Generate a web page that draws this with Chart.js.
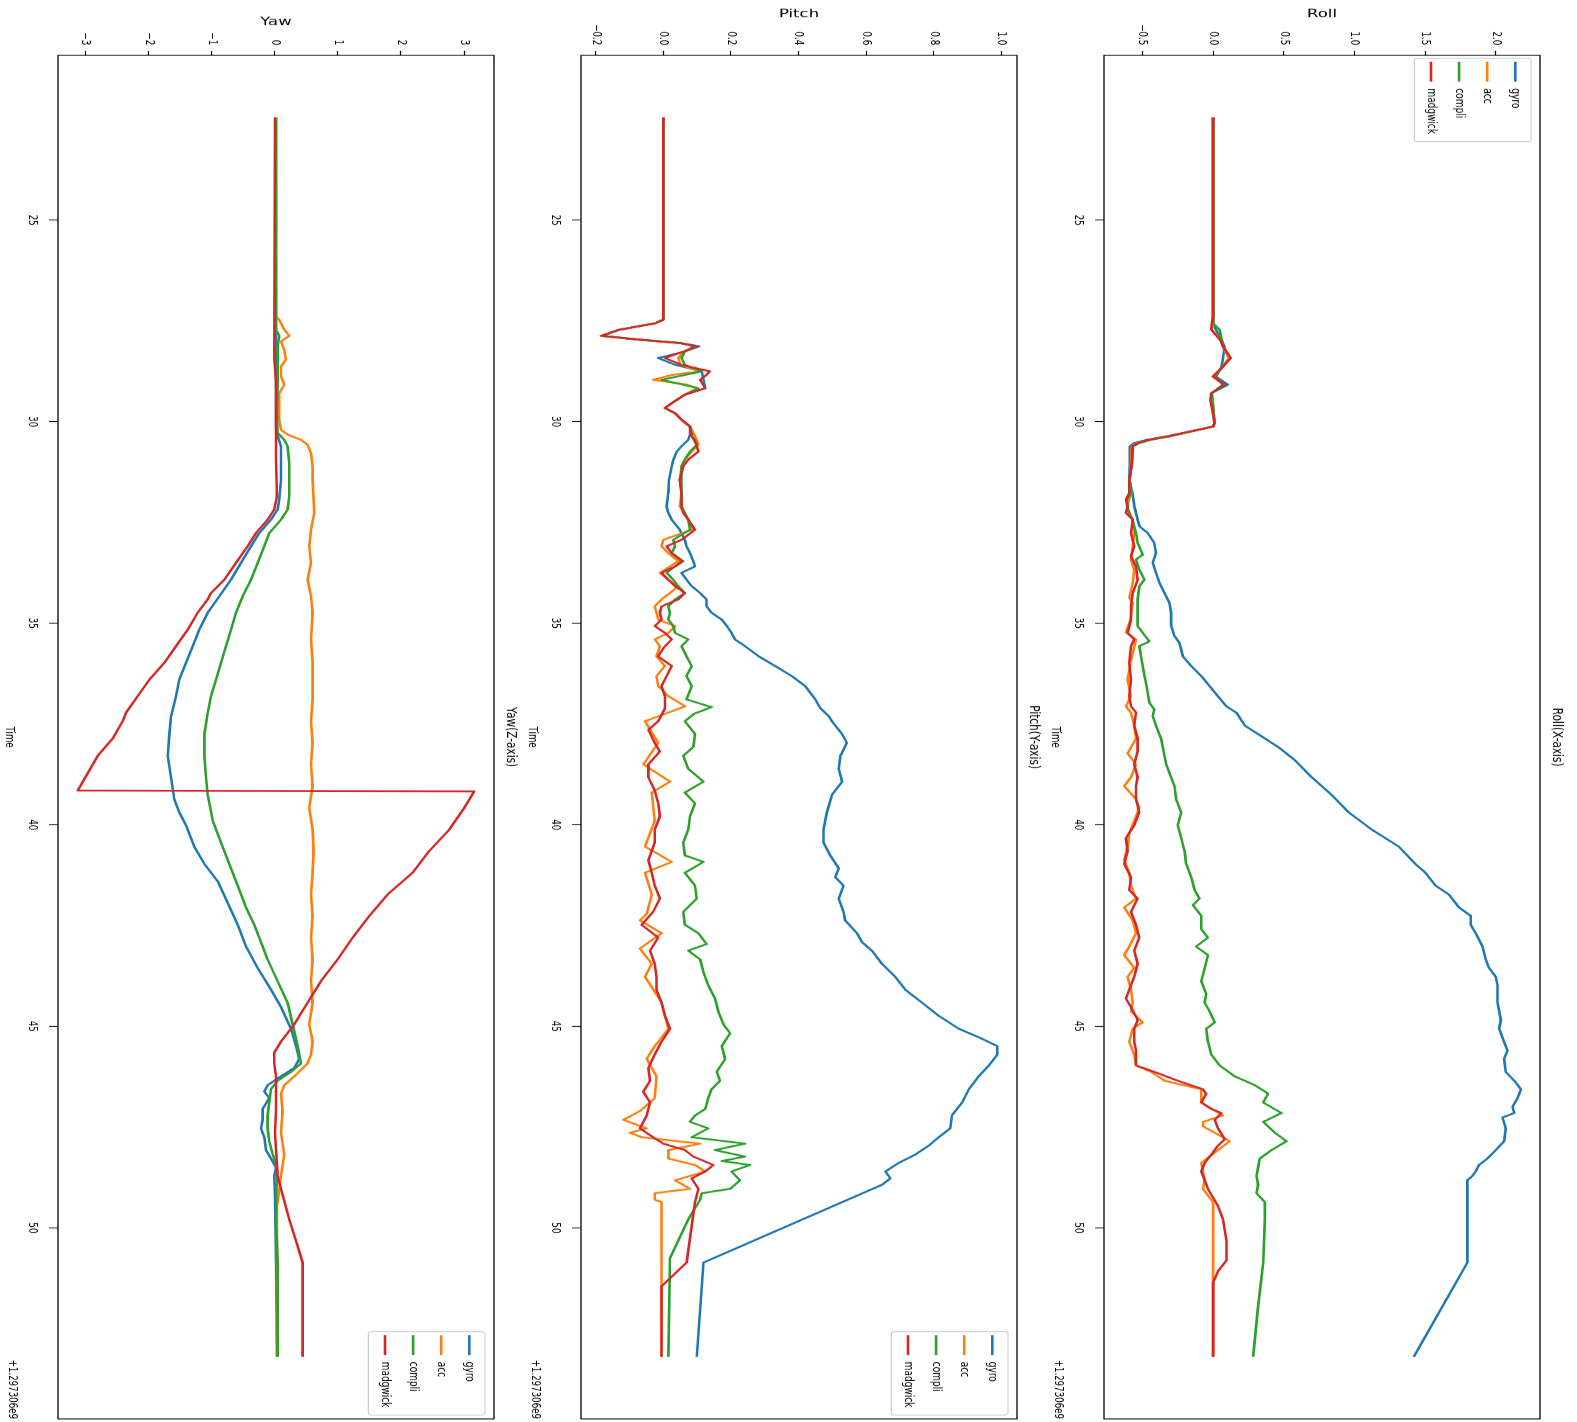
<!DOCTYPE html>
<html>
<head>
<meta charset="utf-8">
<title>Roll / Pitch / Yaw</title>
<script src="https://cdn.jsdelivr.net/npm/chart.js@4.4.1/dist/chart.umd.min.js"></script>
<style>
  html, body { margin: 0; padding: 0; background: #fff; overflow: hidden; width: 1577px; height: 1422px; }
  /* The figure is laid out upright (1422 x 1577) and then turned a quarter turn clockwise. */
  #figure { position: absolute; left: 0; top: 0; width: 1422px; height: 1577px;
            transform-origin: 0 0; transform: translateX(1577px) rotate(90deg); background: #fff; }
  .panel { position: absolute; left: 0; width: 1422px; }
  .panel canvas { position: absolute; left: 0; top: 0; transform-origin: 0 0; }
</style>
</head>
<body>
<div id="figure">
  <div class="panel" style="top:0px"><canvas id="roll"></canvas></div>
  <div class="panel" style="top:523px"><canvas id="pitch"></canvas></div>
  <div class="panel" style="top:1046px"><canvas id="yaw"></canvas></div>
</div>
<script>
// ---- time axis (seconds, offset +1.297306e9) ----
const timeRange = [20.91, 54.74];
const timeTicks = [25, 30, 35, 40, 45, 50];

// ---- Roll (X-axis) ----
const rollRange = [-0.772, 2.312];
const rollTicks = [-0.5, 0.0, 0.5, 1.0, 1.5, 2.0];
const rollGyro = [[22.45,0],[27.39,0],[27.56,0],[27.72,0.02],[27.97,0.06],[28.13,0.08],[28.42,0.07],[28.63,0.06],[28.88,0.02],[29.08,0.105],[29.29,-0.01],[29.46,-0.01],[29.79,0],[30.03,0.01],[30.12,0],[30.36,-0.32],[30.45,-0.47],[30.53,-0.558],[30.61,-0.59],[31.03,-0.59],[31.44,-0.593],[31.77,-0.57],[32.10,-0.557],[32.43,-0.534],[32.60,-0.52],[32.76,-0.463],[33.01,-0.416],[33.26,-0.404],[33.50,-0.427],[33.75,-0.404],[34.00,-0.38],[34.25,-0.344],[34.50,-0.309],[34.74,-0.297],[35.07,-0.297],[35.32,-0.273],[35.49,-0.238],[35.82,-0.214],[36.06,-0.155],[36.31,-0.084],[36.56,-0.025],[36.81,0.034],[37.06,0.094],[37.22,0.165],[37.54,0.224],[37.75,0.318],[38.07,0.46],[38.40,0.579],[38.82,0.697],[39.26,0.839],[39.69,0.958],[40.12,1.123],[40.54,1.313],[40.97,1.43],[41.19,1.502],[41.51,1.573],[41.73,1.668],[42.05,1.739],[42.26,1.822],[42.48,1.822],[42.69,1.857],[43.02,1.905],[43.34,1.928],[43.55,1.952],[43.77,1.999],[43.98,2.011],[44.41,2.011],[44.84,2.035],[45.06,2.023],[45.38,2.058],[45.60,2.082],[45.81,2.058],[46.13,2.07],[46.35,2.13],[46.56,2.177],[46.78,2.153],[46.99,2.118],[47.15,2.13],[47.26,2.047],[47.53,2.07],[47.85,2.058],[48.07,1.999],[48.28,1.94],[48.44,1.881],[48.60,1.857],[48.71,1.834],[48.82,1.798],[49.79,1.798],[50.86,1.798],[53.2,1.419]];
const rollAcc = [[22.45,0],[27.39,0],[27.56,0],[27.72,-0.01],[27.97,0.055],[28.13,0.07],[28.42,0.11],[28.63,0.07],[28.88,-0.005],[29.08,0.075],[29.29,-0.01],[29.62,0],[30.03,0.01],[30.12,0],[30.36,-0.30],[30.45,-0.45],[30.53,-0.54],[30.61,-0.575],[31.03,-0.58],[31.44,-0.59],[31.77,-0.58],[32.10,-0.61],[32.43,-0.57],[32.76,-0.558],[33.09,-0.569],[33.42,-0.581],[33.67,-0.558],[34.00,-0.569],[34.37,-0.593],[34.50,-0.569],[34.91,-0.585],[35.22,-0.617],[35.40,-0.546],[35.98,-0.585],[36.40,-0.605],[36.81,-0.581],[37.06,-0.617],[37.22,-0.581],[37.54,-0.558],[37.86,-0.546],[38.23,-0.605],[38.50,-0.546],[38.82,-0.581],[39.04,-0.629],[39.36,-0.546],[39.58,-0.522],[39.90,-0.558],[40.22,-0.593],[40.54,-0.605],[40.87,-0.629],[41.19,-0.593],[41.51,-0.581],[41.83,-0.546],[42.05,-0.629],[42.37,-0.569],[42.69,-0.546],[43.02,-0.593],[43.23,-0.629],[43.55,-0.558],[43.77,-0.605],[44.09,-0.581],[44.41,-0.569],[44.63,-0.581],[44.90,-0.498],[45.06,-0.569],[45.38,-0.593],[45.70,-0.558],[45.97,-0.546],[46.13,-0.439],[46.35,-0.344],[46.56,-0.084],[46.89,-0.084],[47.21,0.07],[47.37,-0.072],[47.48,-0.072],[47.64,0.011],[47.85,0.117],[48.07,0.034],[48.39,-0.084],[48.60,-0.072],[48.82,-0.06],[49.03,-0.072],[49.25,-0.025],[49.36,0],[53.2,0]];
const rollCompli = [[22.45,0],[27.39,0],[27.56,0],[27.72,0.046],[27.97,0.06],[28.13,0.07],[28.42,0.124],[28.63,0.07],[28.88,0.01],[29.08,0.07],[29.29,-0.01],[29.62,0],[30.03,0.01],[30.12,0],[30.36,-0.30],[30.45,-0.44],[30.53,-0.52],[30.61,-0.565],[31.03,-0.575],[31.44,-0.59],[31.77,-0.58],[31.93,-0.61],[32.18,-0.605],[32.43,-0.57],[32.76,-0.546],[33.01,-0.534],[33.30,-0.498],[33.42,-0.546],[33.67,-0.522],[33.92,-0.486],[34.08,-0.522],[34.41,-0.534],[34.74,-0.534],[35.07,-0.534],[35.45,-0.451],[35.57,-0.522],[35.82,-0.51],[36.06,-0.498],[36.31,-0.486],[36.48,-0.475],[36.73,-0.463],[36.97,-0.451],[37.14,-0.416],[37.30,-0.427],[37.54,-0.404],[37.86,-0.368],[38.07,-0.356],[38.29,-0.344],[38.50,-0.332],[38.72,-0.309],[39.04,-0.273],[39.36,-0.262],[39.69,-0.226],[40.01,-0.25],[40.33,-0.226],[40.65,-0.202],[40.97,-0.191],[41.30,-0.155],[41.62,-0.131],[41.83,-0.096],[41.99,-0.143],[42.26,-0.084],[42.59,-0.084],[42.80,-0.037],[43.02,-0.12],[43.23,-0.037],[43.55,-0.06],[43.88,-0.084],[44.20,-0.049],[44.41,-0.06],[44.63,-0.025],[44.90,0.011],[45.06,-0.049],[45.38,-0.037],[45.70,-0.013],[45.97,0.046],[46.24,0.153],[46.46,0.295],[46.67,0.389],[46.89,0.354],[47.15,0.484],[47.37,0.354],[47.64,0.437],[47.85,0.52],[48.07,0.413],[48.28,0.33],[48.50,0.318],[48.71,0.307],[48.93,0.318],[49.14,0.307],[49.36,0.366],[49.79,0.366],[50.86,0.354],[51.94,0.318],[53.2,0.283]];
const rollMadgwick = [[22.45,0],[27.39,0],[27.56,-0.01],[27.72,-0.013],[27.97,0.05],[28.13,0.07],[28.42,0.124],[28.63,0.07],[28.88,0],[29.08,0.082],[29.29,-0.013],[29.46,-0.02],[29.79,0],[30.03,0.01],[30.12,0],[30.36,-0.321],[30.45,-0.463],[30.53,-0.534],[30.61,-0.57],[31.03,-0.575],[31.44,-0.593],[31.77,-0.593],[31.93,-0.617],[32.10,-0.605],[32.26,-0.617],[32.43,-0.569],[32.76,-0.581],[33.09,-0.558],[33.34,-0.581],[33.59,-0.546],[33.92,-0.534],[34.25,-0.569],[34.58,-0.581],[34.91,-0.581],[35.24,-0.605],[35.40,-0.558],[35.57,-0.581],[35.98,-0.593],[36.40,-0.581],[36.81,-0.593],[37.06,-0.581],[37.21,-0.546],[37.54,-0.558],[37.86,-0.534],[38.18,-0.534],[38.50,-0.558],[38.82,-0.534],[39.04,-0.546],[39.36,-0.546],[39.69,-0.522],[40.01,-0.558],[40.33,-0.617],[40.65,-0.605],[40.97,-0.629],[41.30,-0.581],[41.62,-0.593],[41.83,-0.534],[42.16,-0.581],[42.48,-0.546],[42.80,-0.522],[43.12,-0.558],[43.45,-0.534],[43.77,-0.558],[44.09,-0.593],[44.31,-0.617],[44.52,-0.581],[44.84,-0.534],[45.06,-0.558],[45.38,-0.558],[45.60,-0.546],[45.97,-0.546],[46.13,-0.416],[46.35,-0.25],[46.56,-0.072],[46.67,-0.049],[46.89,-0.084],[47.05,-0.013],[47.15,0.058],[47.32,0.011],[47.53,0.034],[47.80,0.082],[47.96,0.034],[48.18,-0.013],[48.39,-0.06],[48.60,-0.084],[48.82,-0.06],[49.03,-0.037],[49.25,0],[49.46,0.034],[49.79,0.07],[50.32,0.094],[50.81,0.094],[51.08,0.034],[51.35,0],[53.2,0]];

// ---- Pitch (Y-axis) ----
const pitchRange = [-0.2433, 1.0463];
const pitchTicks = [-0.2, 0.0, 0.2, 0.4, 0.6, 0.8, 1.0];
const pitchGyro = [[22.45,0],[27.39,0],[27.47,0],[27.56,-0.025],[27.72,-0.133],[27.87,-0.183],[27.97,-0.06],[28.05,0.054],[28.13,0.106],[28.26,0.064],[28.42,-0.015],[28.59,0.035],[28.75,0.114],[28.96,0.119],[29.17,0.124],[29.33,0.064],[29.54,0.025],[29.66,0.005],[29.79,0.035],[29.95,0.054],[30.12,0.079],[30.32,0.079],[30.45,0.074],[30.61,0.054],[30.74,0.04],[30.94,0.03],[31.11,0.025],[31.44,0.017],[31.77,0.015],[32.10,0.01],[32.26,0.015],[32.43,0.025],[32.68,0.049],[32.93,0.064],[33.09,0.069],[33.26,0.079],[33.46,0.089],[33.59,0.094],[33.75,0.054],[33.92,0.069],[34.08,0.084],[34.25,0.109],[34.41,0.128],[34.58,0.128],[34.74,0.143],[34.91,0.173],[35.07,0.188],[35.24,0.202],[35.40,0.212],[35.57,0.242],[35.82,0.282],[36.06,0.331],[36.31,0.38],[36.56,0.42],[36.89,0.45],[37.10,0.464],[37.30,0.489],[37.43,0.499],[37.75,0.529],[37.97,0.543],[38.29,0.524],[38.61,0.519],[38.93,0.529],[39.26,0.499],[39.69,0.484],[40.12,0.474],[40.44,0.474],[40.76,0.494],[41.08,0.519],[41.30,0.509],[41.51,0.533],[41.83,0.519],[42.16,0.533],[42.37,0.538],[42.69,0.573],[42.91,0.588],[43.12,0.617],[43.45,0.647],[43.77,0.686],[44.09,0.716],[44.41,0.765],[44.74,0.815],[45.06,0.874],[45.27,0.933],[45.49,0.988],[45.70,0.988],[45.97,0.963],[46.24,0.933],[46.56,0.904],[46.89,0.884],[47.21,0.854],[47.53,0.849],[47.75,0.815],[47.96,0.785],[48.18,0.746],[48.39,0.696],[48.60,0.657],[48.77,0.672],[48.93,0.647],[50.86,0.119],[53.2,0.099]];
const pitchAcc = [[22.45,0],[27.39,0],[27.47,0],[27.56,-0.025],[27.72,-0.13],[27.87,-0.185],[27.97,-0.07],[28.05,0.05],[28.13,0.095],[28.26,0.06],[28.42,0.045],[28.59,0.05],[28.75,0.11],[28.84,0.025],[28.96,-0.03],[29.08,0.07],[29.17,0.1],[29.33,0.064],[29.54,0.025],[29.66,0.005],[29.79,0.035],[29.95,0.054],[30.12,0.079],[30.36,0.094],[30.57,0.104],[30.74,0.084],[30.94,0.064],[31.11,0.054],[31.44,0.049],[31.77,0.054],[32.10,0.049],[32.43,0.074],[32.68,0.084],[32.93,0],[33.09,-0.005],[33.26,0.015],[33.46,0.044],[33.75,-0.01],[33.92,0.015],[34.08,0.044],[34.25,0.02],[34.41,-0.005],[34.58,-0.025],[34.74,-0.02],[34.91,-0.015],[35.07,0.035],[35.24,0.015],[35.40,-0.025],[35.57,-0.01],[35.82,-0.02],[36.06,0.005],[36.31,-0.02],[36.56,-0.015],[36.81,0.015],[37.06,0.065],[37.43,-0.054],[37.97,-0.015],[38.50,-0.059],[38.93,0.02],[39.20,-0.034],[39.90,-0.025],[40.54,-0.054],[40.92,0.025],[41.19,-0.054],[41.73,-0.034],[42.21,-0.049],[42.37,-0.069],[42.69,-0.005],[43.07,-0.069],[43.45,-0.034],[43.77,-0.054],[44.41,-0.005],[45.06,0.015],[45.49,-0.025],[45.81,-0.049],[46.24,-0.02],[46.78,-0.025],[47.10,-0.069],[47.32,-0.118],[47.53,-0.049],[47.64,-0.099],[47.75,-0.064],[47.91,0.109],[48.07,0.015],[48.28,0.015],[48.44,0.094],[48.60,0.124],[48.82,0.035],[49.03,0.079],[49.14,-0.025],[49.30,-0.025],[49.36,-0.005],[53.2,-0.005]];
const pitchCompli = [[22.45,0],[27.39,0],[27.47,0],[27.56,-0.025],[27.72,-0.13],[27.87,-0.18],[27.97,-0.07],[28.05,0.05],[28.13,0.09],[28.26,0.064],[28.42,0.054],[28.59,0.064],[28.75,0.114],[28.84,0.064],[28.96,-0.005],[29.17,0.104],[29.33,0.064],[29.54,0.025],[29.66,0.005],[29.79,0.035],[29.95,0.054],[30.12,0.079],[30.36,0.084],[30.57,0.099],[30.74,0.079],[30.94,0.064],[31.11,0.054],[31.44,0.054],[31.77,0.054],[32.10,0.054],[32.26,0.064],[32.43,0.074],[32.68,0.079],[32.93,0.03],[33.09,0.035],[33.26,0.025],[33.46,0.054],[33.75,0.01],[33.92,0.03],[34.08,0.044],[34.25,0.064],[34.41,0.035],[34.58,0.015],[34.74,0.02],[34.91,0.015],[35.07,0.03],[35.24,0.035],[35.40,0.074],[35.57,0.054],[35.82,0.069],[36.06,0.084],[36.31,0.069],[36.56,0.084],[36.89,0.069],[37.08,0.143],[37.25,0.09],[37.43,0.064],[37.75,0.094],[38.07,0.089],[38.29,0.059],[38.61,0.074],[38.93,0.119],[39.20,0.064],[39.47,0.094],[39.79,0.079],[40.12,0.074],[40.44,0.059],[40.76,0.064],[40.92,0.119],[41.19,0.064],[41.51,0.094],[41.83,0.099],[42.16,0.059],[42.48,0.064],[42.69,0.104],[42.96,0.128],[43.12,0.074],[43.34,0.109],[43.66,0.119],[43.98,0.133],[44.31,0.153],[44.63,0.163],[44.95,0.178],[45.17,0.198],[45.49,0.173],[45.81,0.183],[46.13,0.158],[46.35,0.168],[46.56,0.143],[46.78,0.133],[47.05,0.124],[47.21,0.094],[47.37,0.079],[47.53,0.133],[47.75,0.084],[47.91,0.242],[48.07,0.153],[48.23,0.242],[48.34,0.173],[48.44,0.257],[48.60,0.202],[48.82,0.227],[49.03,0.198],[49.14,0.114],[49.30,0.109],[49.79,0.074],[50.75,0.02],[53.2,0.015]];
const pitchMadgwick = [[22.45,0],[27.39,0],[27.47,0],[27.56,-0.025],[27.72,-0.13],[27.87,-0.183],[27.97,-0.06],[28.05,0.05],[28.13,0.1],[28.26,0.06],[28.42,0.005],[28.59,0.054],[28.75,0.138],[28.84,0.128],[28.96,0.109],[29.17,0.124],[29.33,0.064],[29.54,0.025],[29.66,0.005],[29.79,0.035],[29.95,0.054],[30.12,0.079],[30.36,0.084],[30.45,0.094],[30.61,0.099],[30.74,0.104],[30.94,0.074],[31.11,0.059],[31.44,0.049],[31.77,0.054],[32.10,0.054],[32.26,0.059],[32.43,0.074],[32.68,0.094],[32.93,0.054],[33.09,0.01],[33.26,0.025],[33.46,0.059],[33.59,0.035],[33.75,-0.005],[33.92,0.015],[34.08,0.035],[34.25,0.064],[34.41,0.044],[34.58,-0.005],[34.74,-0.01],[34.91,-0.005],[35.07,-0.025],[35.24,0.005],[35.40,0.025],[35.57,0.005],[35.82,-0.015],[36.06,0.025],[36.31,0.01],[36.56,-0.005],[36.81,0.005],[37.11,0.005],[37.43,-0.015],[37.64,-0.044],[37.97,-0.025],[38.18,-0.01],[38.50,-0.044],[38.82,-0.044],[39.15,-0.025],[39.47,-0.015],[39.79,-0.01],[40.12,-0.025],[40.44,-0.025],[40.87,-0.044],[41.19,-0.034],[41.51,-0.025],[41.83,-0.01],[42.16,-0.03],[42.48,-0.064],[42.80,-0.015],[43.12,-0.039],[43.45,-0.025],[43.77,-0.02],[44.09,-0.02],[44.41,-0.005],[44.74,0.005],[45.06,0.02],[45.38,-0.005],[45.70,-0.025],[46.03,-0.044],[46.35,-0.039],[46.62,-0.059],[46.89,-0.039],[47.21,-0.049],[47.53,-0.069],[47.75,-0.03],[47.91,0],[48.07,0.064],[48.23,0.089],[48.44,0.148],[48.60,0.124],[48.77,0.084],[49.03,0.104],[49.36,0.094],[50.86,0.069],[51.45,-0.005],[53.2,-0.005]];

// ---- Yaw (Z-axis) ----
const yawRange = [-3.437, 3.475];
const yawTicks = [-3, -2, -1, 0, 1, 2, 3];
const yawGyro = [[22.45,0.018],[30.12,0.018],[30.36,0.045],[30.61,0.098],[31.03,0.098],[31.44,0.098],[31.93,0.071],[32.18,0.045],[32.43,-0.061],[32.76,-0.246],[33.09,-0.378],[33.50,-0.536],[33.92,-0.695],[34.33,-0.88],[34.74,-1.064],[35.16,-1.197],[35.57,-1.302],[35.98,-1.408],[36.40,-1.514],[36.81,-1.566],[37.14,-1.619],[37.32,-1.646],[37.75,-1.672],[38.29,-1.698],[38.82,-1.646],[39.36,-1.593],[39.69,-1.514],[40.01,-1.408],[40.54,-1.276],[40.97,-1.117],[41.40,-0.906],[41.94,-0.747],[42.48,-0.589],[43.02,-0.457],[43.55,-0.272],[44.09,-0.061],[44.52,0.098],[45.06,0.256],[45.49,0.335],[45.81,0.388],[46.03,0.309],[46.24,0.098],[46.46,-0.114],[46.62,-0.166],[46.78,-0.087],[47.05,-0.193],[47.32,-0.193],[47.53,-0.219],[47.75,-0.166],[48.07,-0.14],[48.28,-0.061],[48.50,0.018],[48.71,-0.008],[49.25,0.003],[50.86,0.018],[53.2,0.034]];
const yawAcc = [[22.45,0.018],[27.39,0.018],[27.47,0.071],[27.72,0.151],[27.87,0.23],[28.01,0.098],[28.22,0.151],[28.46,0.177],[28.63,0.098],[28.88,0.098],[29.08,0.151],[29.29,0.071],[29.62,0.071],[29.95,0.071],[30.20,0.098],[30.32,0.203],[30.45,0.415],[30.57,0.52],[30.78,0.573],[31.11,0.6],[31.44,0.6],[32.26,0.626],[32.68,0.573],[33.09,0.547],[33.50,0.573],[33.92,0.52],[34.33,0.573],[34.74,0.6],[35.40,0.573],[35.98,0.6],[36.40,0.6],[36.89,0.6],[37.43,0.573],[37.97,0.6],[38.50,0.573],[39.04,0.6],[39.58,0.547],[40.12,0.6],[40.65,0.615],[41.19,0.6],[41.73,0.573],[42.26,0.6],[42.80,0.573],[43.34,0.6],[43.88,0.573],[44.41,0.6],[44.95,0.547],[45.38,0.6],[45.70,0.573],[45.92,0.52],[46.24,0.309],[46.46,0.151],[46.67,0.098],[47.10,0.124],[47.64,0.098],[48.18,0.151],[48.71,0.098],[49.25,0.055],[49.46,0.034],[53.2,0.034]];
const yawCompli = [[22.45,0.018],[27.72,0.018],[27.87,0.071],[28.13,0.045],[28.96,0.045],[29.79,0.034],[30.28,0.045],[30.45,0.151],[30.61,0.203],[31.03,0.23],[31.44,0.23],[31.85,0.23],[32.18,0.203],[32.43,0.098],[32.76,-0.087],[33.09,-0.166],[33.50,-0.272],[33.92,-0.378],[34.33,-0.51],[34.74,-0.615],[35.16,-0.695],[35.57,-0.774],[35.98,-0.853],[36.40,-0.932],[36.81,-1.012],[37.22,-1.064],[37.75,-1.117],[38.29,-1.117],[38.82,-1.091],[39.26,-1.064],[39.90,-0.985],[40.44,-0.853],[40.97,-0.721],[41.51,-0.589],[42.05,-0.457],[42.48,-0.325],[42.91,-0.219],[43.34,-0.114],[43.88,0.045],[44.41,0.203],[44.95,0.283],[45.49,0.362],[45.92,0.415],[46.13,0.256],[46.35,0.045],[46.56,-0.061],[46.89,-0.087],[47.21,-0.114],[47.53,-0.114],[47.85,-0.087],[48.18,-0.034],[48.50,0.034],[49.79,0.018],[50.86,0.045],[53.2,0.045]];
const yawMadgwick = [[22.45,0.003],[28.42,-0.008],[29.00,0.018],[30.12,0.018],[30.94,0.018],[31.85,0.034],[32.18,-0.008],[32.43,-0.114],[32.76,-0.298],[33.09,-0.431],[33.50,-0.615],[33.92,-0.8],[34.25,-1.012],[34.41,-1.064],[34.74,-1.223],[35.16,-1.381],[35.57,-1.566],[35.98,-1.751],[36.40,-1.989],[36.81,-2.174],[37.22,-2.359],[37.43,-2.412],[37.86,-2.57],[38.29,-2.808],[38.72,-2.966],[39.15,-3.125],[39.17,3.161],[39.58,3.003],[40.12,2.765],[40.65,2.448],[41.19,2.184],[41.73,1.788],[42.26,1.498],[42.80,1.233],[43.34,0.996],[43.88,0.732],[44.41,0.52],[44.95,0.309],[45.38,0.098],[45.65,-0.008],[45.92,-0.008],[46.24,0.018],[47.10,0.018],[47.64,0.003],[48.71,0.045],[49.03,0.098],[49.79,0.23],[50.32,0.335],[50.86,0.441],[53.2,0.441]];

// ---- styling ----
const SERIES_NAMES = ['gyro', 'acc', 'compli', 'madgwick'];
const SERIES_COLORS = ['#1f77b4', '#ff7f0e', '#2ca02c', '#d62728'];
const FONT = '"DejaVu Sans", "Liberation Sans", sans-serif';
const NATIVE_W = 1975;                 // drawing width of each panel before horizontal squeeze
const SQUEEZE_X = 1422 / NATIVE_W;     // horizontal squeeze applied to every panel
const AXES_TOP = 37, AXES_H = 436, AXES_LEFT = 76.8, AXES_RIGHT_PAD = 4.2;
const LINE_W = 2.6, TICK_LEN_Y = 6, TICK_PAD_Y = 8, TICK_LEN_X = 9, TICK_PAD_X = 10;
const TICK_SIZE = 12, LABEL_SIZE = 12, YLABEL_SIZE = 16.5, TITLE_SIZE = 14.6, LEGEND_SIZE = 12.5;

function fmt(v, d) {
  if (Math.abs(v) < 1e-9) v = 0;
  return v.toFixed(d).replace('-', '\u2212');
}

// axes frame, titles, axis labels, offset text and legend
const figureText = {
  id: 'figureText',
  afterDraw(chart, args, o) {
    const { ctx, chartArea: a } = chart;
    const cx = (a.left + a.right) / 2, cy = (a.top + a.bottom) / 2;
    ctx.save();
    ctx.strokeStyle = '#000';
    ctx.lineWidth = 1.3;
    ctx.strokeRect(a.left, a.top, a.right - a.left, a.bottom - a.top);

    ctx.fillStyle = '#000';
    ctx.textBaseline = 'middle';
    ctx.textAlign = 'center';
    ctx.font = TITLE_SIZE + 'px ' + FONT;
    ctx.fillText(o.title, cx, a.top - o.titleGap);

    ctx.font = LABEL_SIZE + 'px ' + FONT;
    ctx.fillText('Time', cx, a.bottom + 49);
    ctx.textAlign = 'right';
    ctx.fillText('+1.297306e9', a.right, a.bottom + 46);

    // y label placed left of the widest tick label
    ctx.font = TICK_SIZE + 'px ' + FONT;
    let w = 0;
    chart.scales.y.ticks.forEach(t => { w = Math.max(w, ctx.measureText(fmt(t.value, o.decimals)).width); });
    const lx = a.left - TICK_LEN_Y - TICK_PAD_Y - w - 14.2;
    ctx.save();
    ctx.translate(lx, cy);
    ctx.rotate(-Math.PI / 2);
    ctx.textAlign = 'center';
    ctx.font = YLABEL_SIZE + 'px ' + FONT;
    ctx.fillText(o.ylabel, 0, 0);
    ctx.restore();

    // legend
    const bw = 115.7, bh = 116.7;
    const bx = o.legendSide === 'left' ? a.left + 4.2 : a.right - 5.5 - bw;
    const by = a.top + 9;
    ctx.beginPath();
    ctx.roundRect(bx, by, bw, bh, 3);
    ctx.fillStyle = 'rgba(255,255,255,0.8)';
    ctx.fill();
    ctx.strokeStyle = '#cccccc';
    ctx.lineWidth = 1.2;
    ctx.stroke();
    ctx.font = LEGEND_SIZE + 'px ' + FONT;
    ctx.textAlign = 'left';
    SERIES_NAMES.forEach((name, i) => {
      const y = by + 15.7 + i * 28.1;
      ctx.strokeStyle = SERIES_COLORS[i];
      ctx.lineWidth = LINE_W;
      ctx.beginPath();
      ctx.moveTo(bx + 4.7, y);
      ctx.lineTo(bx + 32.5, y);
      ctx.stroke();
      ctx.fillStyle = '#000';
      ctx.fillText(name, bx + 41.7, y);
    });
    ctx.restore();
  }
};

function makePanel(id, height, seriesList, yRange, yTicks, decimals, title, ylabel, legendSide, titleGap) {
  const canvas = document.getElementById(id);
  canvas.width = NATIVE_W;
  canvas.height = height;
  canvas.style.width = NATIVE_W + 'px';
  canvas.style.height = height + 'px';
  canvas.style.transform = 'scaleX(' + SQUEEZE_X + ')';
  const datasets = seriesList.map((pts, i) => ({
    label: SERIES_NAMES[i],
    data: pts.map(p => ({ x: p[0], y: p[1] })),
    borderColor: SERIES_COLORS[i],
    backgroundColor: SERIES_COLORS[i],
    borderWidth: LINE_W,
    borderJoinStyle: 'round',
    pointRadius: 0,
    tension: 0,
    fill: false,
    order: 4 - i
  }));
  return new Chart(canvas, {
    type: 'line',
    data: { datasets },
    plugins: [figureText],
    options: {
      responsive: false,
      animation: false,
      devicePixelRatio: 1,
      layout: { padding: { top: AXES_TOP, right: AXES_RIGHT_PAD, bottom: 0, left: 0 } },
      plugins: {
        legend: { display: false },
        tooltip: { enabled: false },
        figureText: { title, ylabel, legendSide, decimals, titleGap }
      },
      scales: {
        x: {
          type: 'linear',
          min: timeRange[0], max: timeRange[1],
          afterFit: s => { s.height = height - AXES_TOP - AXES_H; },
          afterBuildTicks: s => { s.ticks = timeTicks.map(v => ({ value: v })); },
          border: { display: false },
          grid: { drawOnChartArea: false, drawTicks: true, tickLength: TICK_LEN_X, tickColor: '#000', tickWidth: 1.2 },
          ticks: { color: '#000', padding: TICK_PAD_X, maxRotation: 0, autoSkip: false,
                   font: { family: FONT, size: TICK_SIZE }, callback: v => String(v) }
        },
        y: {
          type: 'linear',
          min: yRange[0], max: yRange[1],
          afterFit: s => { s.width = AXES_LEFT; },
          afterBuildTicks: s => { s.ticks = yTicks.map(v => ({ value: v })); },
          border: { display: false },
          grid: { drawOnChartArea: false, drawTicks: true, tickLength: TICK_LEN_Y, tickColor: '#000', tickWidth: 1.2 },
          ticks: { color: '#000', padding: TICK_PAD_Y, autoSkip: false,
                   font: { family: FONT, size: TICK_SIZE }, callback: v => fmt(v, decimals) }
        }
      }
    }
  });
}

makePanel('roll', 540, [rollGyro, rollAcc, rollCompli, rollMadgwick], rollRange, rollTicks, 1,
          'Roll(X-axis)', 'Roll', 'left', 17);
makePanel('pitch', 540, [pitchGyro, pitchAcc, pitchCompli, pitchMadgwick], pitchRange, pitchTicks, 1,
          'Pitch(Y-axis)', 'Pitch', 'right', 17);
makePanel('yaw', 531, [yawGyro, yawAcc, yawCompli, yawMadgwick], yawRange, yawTicks, 0,
          'Yaw(Z-axis)', 'Yaw', 'right', 17);
</script>
</body>
</html>
